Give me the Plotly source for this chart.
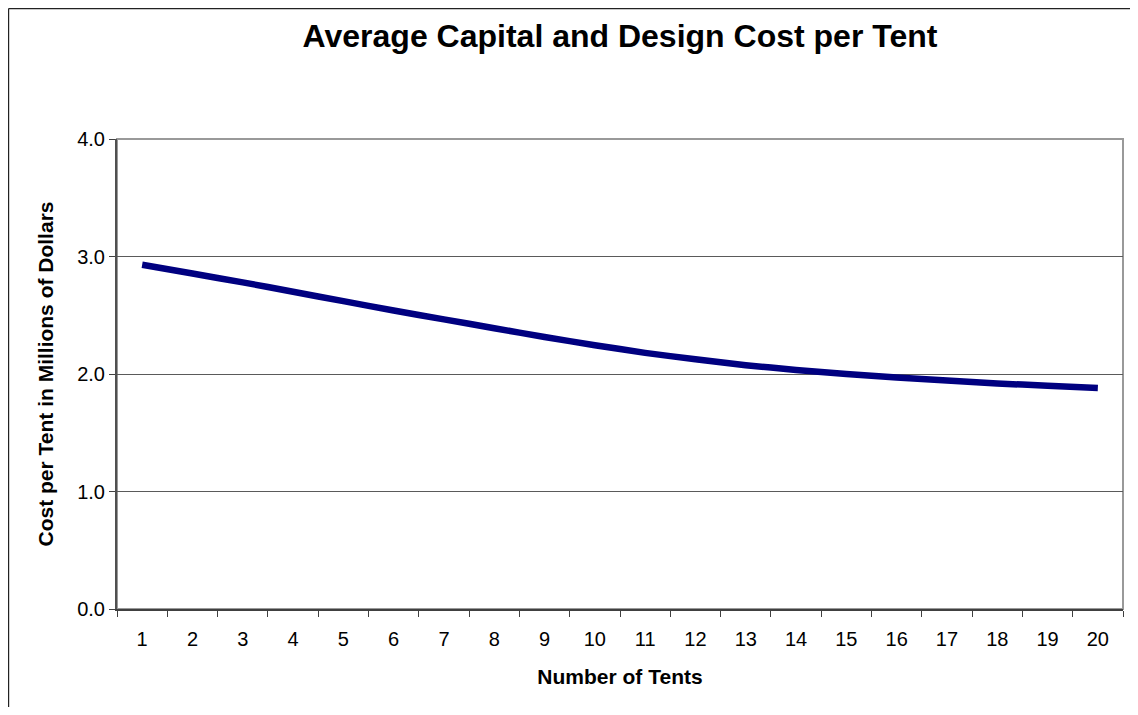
import plotly.graph_objects as go

# Data
tents = [str(i) for i in range(1, 21)]
cost_per_tent = [2.93, 2.855, 2.78, 2.70, 2.62, 2.54, 2.465, 2.39, 2.315, 2.245,
                 2.18, 2.125, 2.075, 2.035, 2.00, 1.97, 1.945, 1.92, 1.90, 1.88]
y_ticks = [0, 1, 2, 3, 4]
y_tick_labels = ["0.0", "1.0", "2.0", "3.0", "4.0"]

FONT = "Liberation Sans, Arial, sans-serif"

# page body has an 8px margin, so the figure starts at (8, 8) on screen
W, H = 1122, 699
L, R, T, B = 109, 7, 131, 98
PW, PH = W - L - R, H - T - B

fig = go.Figure()
fig.add_trace(go.Scatter(
    x=tents, y=cost_per_tent, mode="lines",
    line=dict(color="#000080", width=6.5, shape="spline", smoothing=0.5),
    showlegend=False, hoverinfo="x+y",
))

def px_x(px):
    return (px - L) / PW

def px_y(py):
    return (H - B - py) / PH

shapes = [
    # plot area border (top/right)
    dict(type="rect", xref="paper", yref="paper", x0=0, x1=1, y0=0, y1=1,
         line=dict(color="#999999", width=2), layer="below"),
    # outer chart border (top and left edges)
    dict(type="line", xref="paper", yref="paper",
         x0=px_x(0.6), x1=px_x(W), y0=px_y(0.6), y1=px_y(0.6),
         line=dict(color="#222222", width=1.2), layer="below"),
    dict(type="line", xref="paper", yref="paper",
         x0=px_x(0.6), x1=px_x(0.6), y0=px_y(0.6), y1=px_y(H),
         line=dict(color="#222222", width=1.2), layer="below"),
]

fig.update_layout(
    width=W, height=H,
    margin=dict(l=L, r=R, t=T, b=B, pad=0),
    paper_bgcolor="white", plot_bgcolor="white",
    font=dict(family=FONT, color="black", size=20),
    title=dict(text="<b>Average Capital and Design Cost per Tent</b>",
               font=dict(family=FONT, size=32, color="black"),
               x=612 / W, xanchor="center", xref="container",
               y=1 - 28 / H, yanchor="middle", yref="container"),
    shapes=shapes,
    xaxis=dict(
        type="category", range=[-0.5, 19.5], tickson="boundaries",
        ticks="outside", ticklen=6, tickwidth=1.2, tickcolor="#404040",
        showline=True, linecolor="#404040", linewidth=1.5,
        showgrid=False, zeroline=False,
        tickfont=dict(family=FONT, size=20, color="black"),
        ticklabelstandoff=11,
        title=dict(text="<b>Number of Tents</b>",
                   font=dict(family=FONT, size=21, color="black"), standoff=21),
    ),
    yaxis=dict(
        range=[0, 4], tickvals=y_ticks, ticktext=y_tick_labels,
        ticks="outside", ticklen=6, tickwidth=1.2, tickcolor="#404040",
        showline=True, linecolor="#505050", linewidth=2,
        showgrid=True, gridcolor="#5a5a5a", gridwidth=1,
        zeroline=False,
        tickfont=dict(family=FONT, size=20, color="black"),
        ticklabelstandoff=0,
        title=dict(text="<b>Cost per Tent in Millions of Dollars</b>",
                   font=dict(family=FONT, size=21, color="black"), standoff=18),
    ),
)

fig.write_html("out.html", config={"displayModeBar": False})
